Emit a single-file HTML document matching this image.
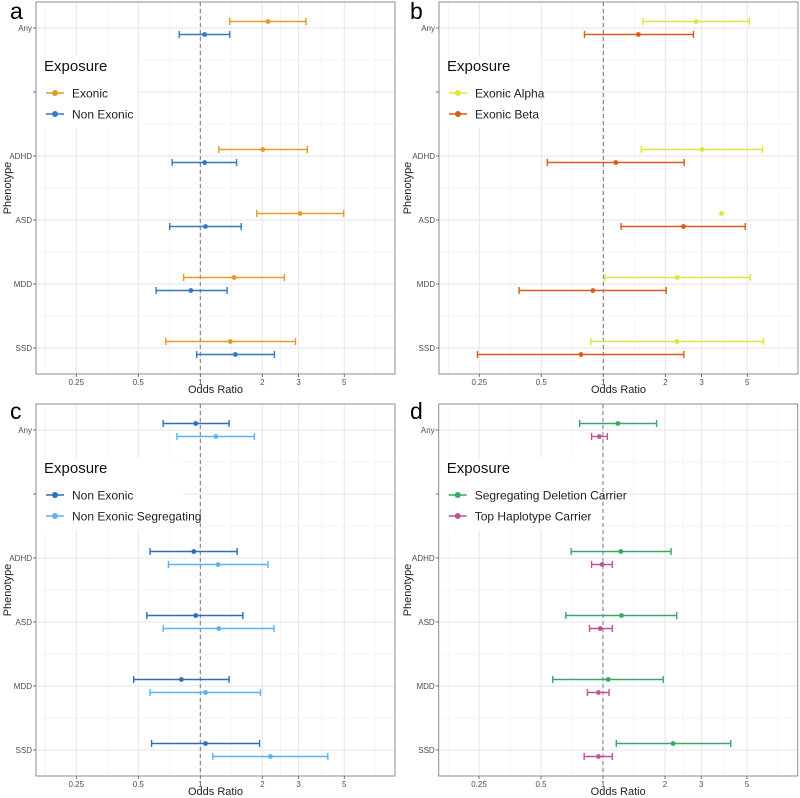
<!DOCTYPE html>
<html><head><meta charset="utf-8"><style>
html,body{margin:0;padding:0;background:#fff;}
svg{display:block;font-family:"Liberation Sans",sans-serif;}
</style></head><body>
<svg id="chart" width="800" height="798" viewBox="0 0 800 798" xmlns="http://www.w3.org/2000/svg"></svg>
<script>
// ---- data ----
const categories = ["Any", "", "ADHD", "ASD", "MDD", "SSD"];
const xTickValues = [0.25, 0.5, 1, 2, 3, 5];
const xTickLabels = ["0.25", "0.5", "1", "2", "3", "5"];

// Panel a
const aNames = ["Exonic", "Non Exonic"];
const aExonicMid = [2.13, null, 2.01, 3.05, 1.46, 1.40];
const aExonicLo  = [1.39, null, 1.23, 1.88, 0.83, 0.68];
const aExonicHi  = [3.26, null, 3.31, 4.97, 2.56, 2.90];
const aNonMid = [1.05, null, 1.05, 1.06, 0.90, 1.48];
const aNonLo  = [0.79, null, 0.73, 0.71, 0.61, 0.96];
const aNonHi  = [1.39, null, 1.50, 1.58, 1.35, 2.29];

// Panel b
const bNames = ["Exonic Alpha", "Exonic Beta"];
const bAlphaMid = [2.82, null, 3.02, 3.75, 2.29, 2.28];
const bAlphaLo  = [1.56, null, 1.53, null, 1.02, 0.87];
const bAlphaHi  = [5.12, null, 5.93, null, 5.17, 5.98];
const bBetaMid = [1.48, null, 1.15, 2.45, 0.89, 0.78];
const bBetaLo  = [0.81, null, 0.535, 1.22, 0.39, 0.245];
const bBetaHi  = [2.74, null, 2.47, 4.89, 2.02, 2.46];

// Panel c
const cNames = ["Non Exonic", "Non Exonic Segregating"];
const cNEMid = [0.95, null, 0.93, 0.95, 0.81, 1.06];
const cNELo  = [0.66, null, 0.57, 0.55, 0.475, 0.58];
const cNEHi  = [1.38, null, 1.51, 1.61, 1.38, 1.94];
const cNESMid = [1.19, null, 1.22, 1.23, 1.06, 2.19];
const cNESLo  = [0.77, null, 0.70, 0.66, 0.57, 1.15];
const cNESHi  = [1.83, null, 2.13, 2.28, 1.96, 4.16];

// Panel d
const dNames = ["Segregating Deletion Carrier", "Top Haplotype Carrier"];
const dSegMid = [1.18, null, 1.22, 1.23, 1.06, 2.19];
const dSegLo  = [0.77, null, 0.70, 0.66, 0.57, 1.16];
const dSegHi  = [1.82, null, 2.14, 2.28, 1.96, 4.17];
const dTopMid = [0.96, null, 0.99, 0.97, 0.95, 0.95];
const dTopLo  = [0.88, null, 0.88, 0.86, 0.84, 0.81];
const dTopHi  = [1.05, null, 1.11, 1.11, 1.07, 1.11];

const NS = "http://www.w3.org/2000/svg";
const svg = document.getElementById("chart");
function mk(tag, attrs, parent){
  const e = document.createElementNS(NS, tag);
  for (const k in attrs) e.setAttribute(k, attrs[k]);
  (parent||svg).appendChild(e);
  return e;
}

const panels = [
  {letter:"a", ox:0, oy:0, left:36, top:2, legW:100, legH:72,
   series:[{name:aNames[0], color:"#e29a2c", mid:aExonicMid, lo:aExonicLo, hi:aExonicHi},
           {name:aNames[1], color:"#3677bf", mid:aNonMid, lo:aNonLo, hi:aNonHi}]},
  {letter:"b", ox:400, oy:0, left:439, top:2, legW:100, legH:72,
   series:[{name:bNames[0], color:"#e3e33a", mid:bAlphaMid, lo:bAlphaLo, hi:bAlphaHi},
           {name:bNames[1], color:"#de5a1a", mid:bBetaMid, lo:bBetaLo, hi:bBetaHi}]},
  {letter:"c", ox:0, oy:400, left:36, top:404, legW:145, legH:72,
   series:[{name:cNames[0], color:"#2e6fba", mid:cNEMid, lo:cNELo, hi:cNEHi},
           {name:cNames[1], color:"#5fb3ec", mid:cNESMid, lo:cNESLo, hi:cNESHi}]},
  {letter:"d", ox:400, oy:400, left:438.7, top:404, legW:165, legH:72,
   series:[{name:dNames[0], color:"#33a86a", mid:dSegMid, lo:dSegLo, hi:dSegHi},
           {name:dNames[1], color:"#c2509e", mid:dTopMid, lo:dTopLo, hi:dTopHi}]}
];

panels.forEach(p => {
  const g = mk("g", {});
  
  
  const L = p.left, R = p.left + 359, T = p.top, B = p.top + 372;
  const pxPerDouble = 62, x1 = L + 164.3;
  const xs = v => x1 + Math.log2(v) * pxPerDouble;
  const ys = i => T + 26 + i * 64;
  // grid
  const minorX = [0.177, 0.354, 0.707, 1.414, 2.45, 3.87, 7.07];
  minorX.forEach(v => { const x = xs(v); if (x > L && x < R) mk("line",{x1:x,x2:x,y1:T,y2:B,stroke:"#f3f3f3","stroke-width":0.8},g); });
  for (let i = 0; i < categories.length - 1; i++) { const y = (ys(i)+ys(i+1))/2; mk("line",{x1:L,x2:R,y1:y,y2:y,stroke:"#f3f3f3","stroke-width":0.8},g); }
  xTickValues.forEach(v => { const x = xs(v); mk("line",{x1:x,x2:x,y1:T,y2:B,stroke:"#e6e6e6","stroke-width":1},g); });
  categories.forEach((c,i) => { const y = ys(i); mk("line",{x1:L,x2:R,y1:y,y2:y,stroke:"#e6e6e6","stroke-width":1},g); });
  // legend background
  const lgx = L + 2, lgy = T + 54;
  mk("rect",{x:lgx,y:lgy,width:p.legW,height:p.legH,fill:"#fff"},g);
  // reference line
  mk("line",{x1:x1,x2:x1,y1:T,y2:B,stroke:"#777","stroke-width":1,"stroke-dasharray":"4,3"},g);
  // series
  p.series.forEach((s,si) => {
    const dy = si === 0 ? -6.5 : 6.5;
    s.mid.forEach((m,i) => {
      if (m === null) return;
      const y = ys(i) + dy;
      if (s.lo[i] !== null && s.hi[i] !== null) {
        const xl = xs(s.lo[i]), xh = xs(s.hi[i]);
        const l = mk("line",{x1:xl,x2:xh,y1:y,y2:y,stroke:s.color,"stroke-width":1.4},g);
        
        
        mk("line",{x1:xl,x2:xl,y1:y-3.5,y2:y+3.5,stroke:s.color,"stroke-width":1.4},g);
        mk("line",{x1:xh,x2:xh,y1:y-3.5,y2:y+3.5,stroke:s.color,"stroke-width":1.4},g);
      }
      const pt = mk("circle",{cx:xs(m),cy:y,r:2.4,fill:s.color},g);
      
      
    });
  });
  // legend
  const lt = mk("text",{x:lgx+6,y:lgy+15,"font-size":15,fill:"#111"},g); lt.textContent = "Exposure";
   
  p.series.forEach((s,si) => {
    const y = lgy + 37 + si * 21;
    mk("line",{x1:lgx+8,x2:lgx+26,y1:y,y2:y,stroke:s.color,"stroke-width":1.5},g);
    mk("circle",{cx:lgx+17,cy:y,r:3,fill:s.color},g);
    const t = mk("text",{x:lgx+34,y:y+4.5,"font-size":12,fill:"#222"},g); t.textContent = s.name;
     
  });
  // border
  mk("rect",{x:L,y:T,width:R-L,height:B-T,fill:"none",stroke:"#8c8c8c","stroke-width":1},g);
  // y ticks
  categories.forEach((c,i) => {
    const y = ys(i);
    mk("line",{x1:L-3,x2:L,y1:y,y2:y,stroke:"#555","stroke-width":0.8},g);
    const t = mk("text",{x:L-4,y:y+3,"font-size":8,fill:"#4d4d4d","text-anchor":"end"},g); t.textContent = c;
     
  });
  // x ticks
  xTickValues.forEach((v,i) => {
    const x = xs(v);
    mk("line",{x1:x,x2:x,y1:B,y2:B+3,stroke:"#555","stroke-width":0.8},g);
    const t = mk("text",{x:x,y:B+11,"font-size":8,fill:"#4d4d4d","text-anchor":"middle"},g); t.textContent = xTickLabels[i];
     
  });
  const xt = mk("text",{x:(L+R)/2,y:B+19,"font-size":11,fill:"#222","text-anchor":"middle"},g); xt.textContent = "Odds Ratio";
   
  const yt = mk("text",{x:0,y:0,"font-size":11,fill:"#222","text-anchor":"middle",transform:`translate(${p.ox+11},${(T+B)/2}) rotate(-90)`},g); yt.textContent = "Phenotype";
   
  const pl = mk("text",{x:p.ox+10,y:p.oy+19,"font-size":23,fill:"#000"},g); pl.textContent = p.letter;
   
});
</script>
</body></html>
